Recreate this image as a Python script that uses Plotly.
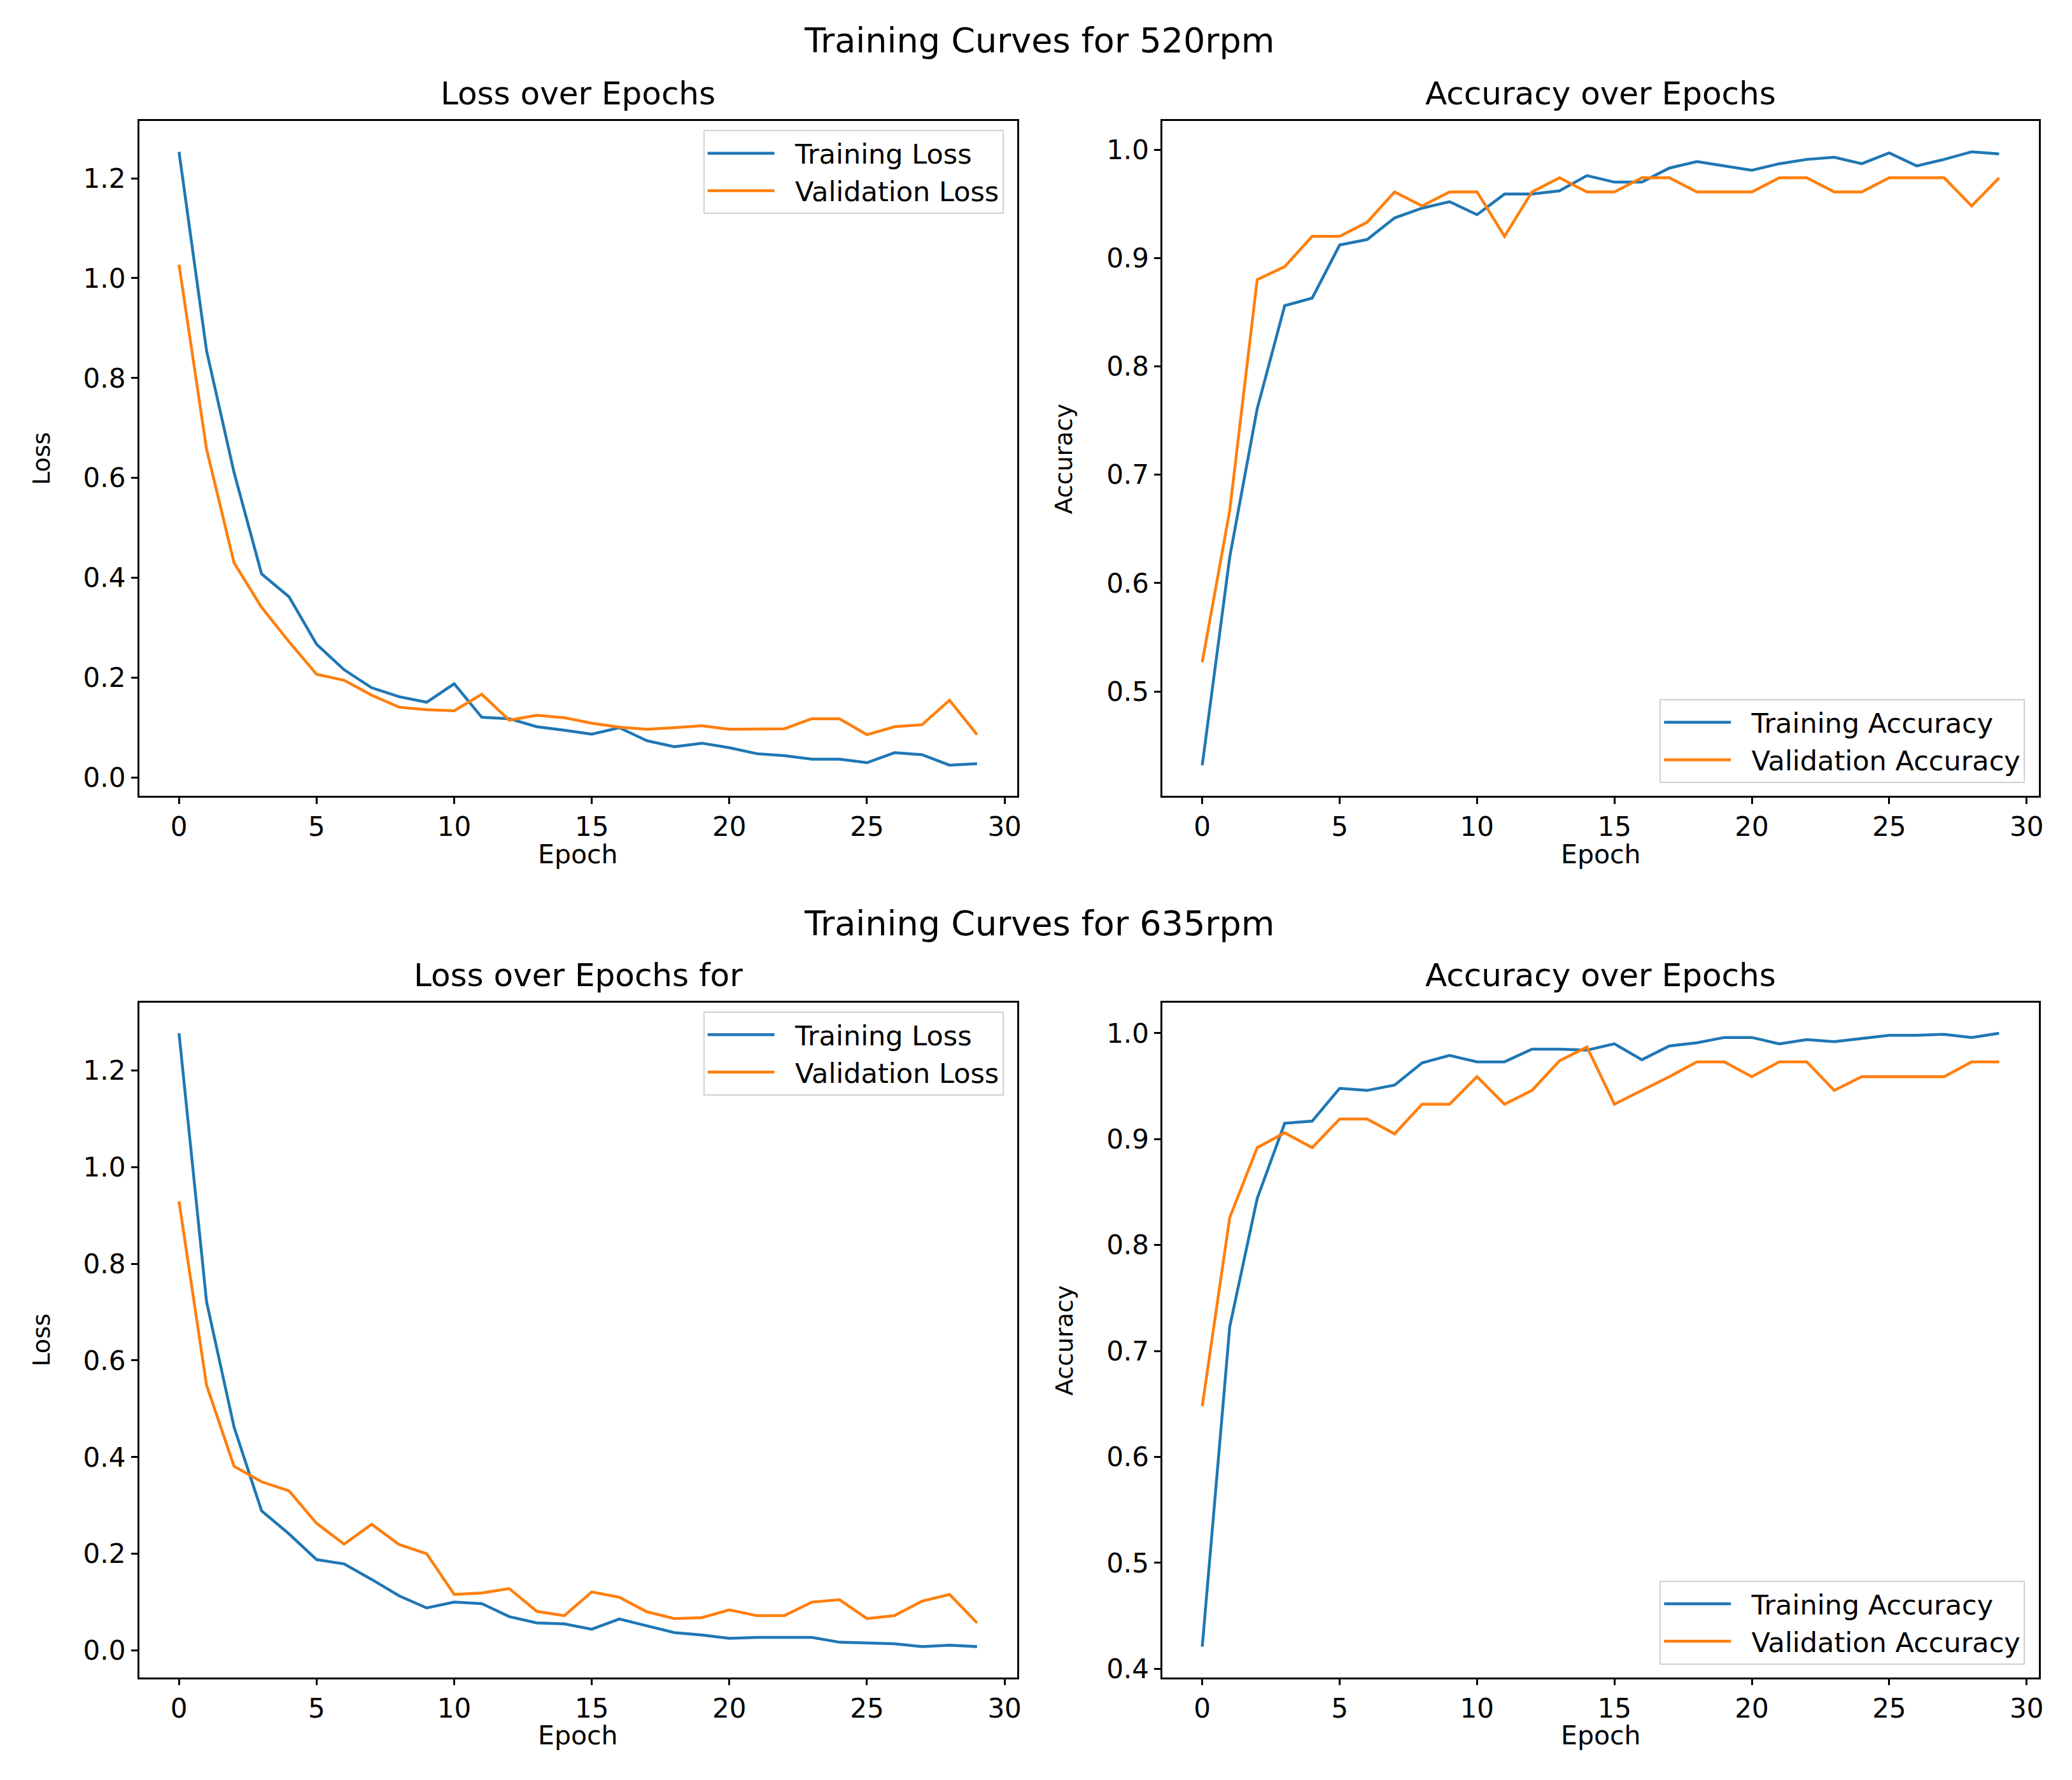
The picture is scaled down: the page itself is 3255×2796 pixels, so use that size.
import plotly.graph_objects as go

# epochs 0..29, same for every panel
epochs = list(range(30))

# 520 rpm
train_loss_520 = [1.253, 0.855, 0.611, 0.408, 0.362, 0.267, 0.216, 0.180, 0.162, 0.151,
                  0.188, 0.121, 0.118, 0.102, 0.095, 0.087, 0.100, 0.074, 0.062, 0.069,
                  0.060, 0.048, 0.044, 0.037, 0.037, 0.030, 0.050, 0.046, 0.025, 0.028]
val_loss_520 = [1.027, 0.658, 0.430, 0.341, 0.272, 0.207, 0.195, 0.165, 0.141, 0.136,
                0.134, 0.167, 0.115, 0.125, 0.120, 0.109, 0.101, 0.097, 0.100, 0.104,
                0.097, 0.097, 0.098, 0.118, 0.118, 0.086, 0.102, 0.106, 0.155, 0.086]
train_acc_520 = [0.432, 0.624, 0.761, 0.856, 0.863, 0.912, 0.917, 0.937, 0.946, 0.952,
                 0.940, 0.959, 0.959, 0.962, 0.976, 0.970, 0.970, 0.983, 0.989, 0.985,
                 0.981, 0.987, 0.991, 0.993, 0.987, 0.997, 0.985, 0.991, 0.998, 0.996]
val_acc_520 = [0.527, 0.667, 0.880, 0.892, 0.920, 0.920, 0.933, 0.961, 0.948, 0.961,
               0.961, 0.920, 0.961, 0.974, 0.961, 0.961, 0.974, 0.974, 0.961, 0.961,
               0.961, 0.974, 0.974, 0.961, 0.961, 0.974, 0.974, 0.974, 0.948, 0.974]

# 635 rpm
train_loss_635 = [1.277, 0.722, 0.462, 0.289, 0.241, 0.188, 0.179, 0.147, 0.113, 0.088,
                  0.100, 0.097, 0.070, 0.057, 0.055, 0.044, 0.065, 0.051, 0.037, 0.032,
                  0.025, 0.027, 0.027, 0.027, 0.017, 0.015, 0.014, 0.008, 0.011, 0.008]
val_loss_635 = [0.929, 0.549, 0.381, 0.349, 0.330, 0.263, 0.220, 0.261, 0.219, 0.200,
                0.116, 0.119, 0.128, 0.081, 0.072, 0.121, 0.110, 0.080, 0.066, 0.068,
                0.084, 0.072, 0.072, 0.100, 0.105, 0.066, 0.072, 0.102, 0.116, 0.057]
train_acc_635 = [0.421, 0.723, 0.844, 0.915, 0.917, 0.948, 0.946, 0.951, 0.972, 0.979,
                 0.973, 0.973, 0.985, 0.985, 0.984, 0.990, 0.975, 0.988, 0.991, 0.996,
                 0.996, 0.990, 0.994, 0.992, 0.995, 0.998, 0.998, 0.999, 0.996, 1.000]
val_acc_635 = [0.648, 0.826, 0.892, 0.906, 0.892, 0.919, 0.919, 0.905, 0.933, 0.933,
               0.959, 0.933, 0.946, 0.974, 0.987, 0.933, 0.946, 0.959, 0.973, 0.973,
               0.959, 0.973, 0.973, 0.946, 0.959, 0.959, 0.959, 0.959, 0.973, 0.973]

suptitles = ["Training Curves for 520rpm", "Training Curves for 635rpm"]
panel_titles = ["Loss over Epochs", "Accuracy over Epochs",
                "Loss over Epochs for", "Accuracy over Epochs"]
y_labels = ["Loss", "Accuracy", "Loss", "Accuracy"]
loss_names = ["Training Loss", "Validation Loss"]
acc_names = ["Training Accuracy", "Validation Accuracy"]

BLUE = "#1f77b4"
ORANGE = "#ff7f0e"
FONT = "DejaVu Sans"
W, H = 3255, 2796
GAP = "\u00a0\u00a0"  # a bit of room between legend line and text

# pixel boxes of the four axes (left, right, top, bottom)
boxes = [(211, 1593, 183, 1247), (1822, 3202, 183, 1247),
         (211, 1593, 1573, 2637), (1822, 3202, 1573, 2637)]

panels = [
    (train_loss_520, val_loss_520, loss_names, 0.2),
    (train_acc_520, val_acc_520, acc_names, 0.1),
    (train_loss_635, val_loss_635, loss_names, 0.2),
    (train_acc_635, val_acc_635, acc_names, 0.1),
]

fig = go.Figure()
annotations = []
layout = {}

for i, (tr, va, names, dt) in enumerate(panels):
    n = i + 1
    sfx = "" if n == 1 else str(n)
    leg = "legend" if n == 1 else "legend" + str(n)
    fig.add_trace(go.Scatter(x=epochs, y=tr, name=GAP + names[0], mode="lines",
                             line=dict(color=BLUE, width=4.5),
                             xaxis="x" + sfx, yaxis="y" + sfx, legend=leg))
    fig.add_trace(go.Scatter(x=epochs, y=va, name=GAP + names[1], mode="lines",
                             line=dict(color=ORANGE, width=4.5),
                             xaxis="x" + sfx, yaxis="y" + sfx, legend=leg))

    l, r, t, b = boxes[i]
    lo = min(tr + va)
    hi = max(tr + va)
    pad = 0.05 * (hi - lo)
    axis_common = dict(showgrid=False, zeroline=False, showline=True, mirror=True,
                       linecolor="black", linewidth=2.5, ticks="outside", ticklen=10,
                       tickwidth=2.5, tickcolor="black",
                       tickfont=dict(family=FONT, size=42, color="black"))
    layout["xaxis" + sfx] = dict(domain=[l / W, r / W], anchor="y" + sfx,
                                 range=[-1.45, 30.45], tick0=0, dtick=5, **axis_common)
    layout["yaxis" + sfx] = dict(domain=[1 - b / H, 1 - t / H], anchor="x" + sfx,
                                 range=[lo - pad, hi + pad], tick0=0, dtick=dt,
                                 tickformat=".1f", **axis_common)

    # legend: loss panels upper right, accuracy panels lower right
    if dt == 0.2:
        legpos = dict(x=1572 / W, y=1 - (t + 14) / H, xanchor="right", yanchor="top")
    else:
        legpos = dict(x=3180 / W, y=1 - (b - 20) / H, xanchor="right", yanchor="bottom")
    layout[leg] = dict(bgcolor="rgba(255,255,255,0.85)", bordercolor="#d0d0d0",
                       borderwidth=2, itemwidth=105, tracegroupgap=0,
                       font=dict(family=FONT, size=43, color="black"), **legpos)

    cx = (l + r) / 2 / W
    annotations.append(dict(text=panel_titles[i], x=cx, y=1 - (t - 43) / H,
                            xref="paper", yref="paper", showarrow=False,
                            xanchor="center", yanchor="middle",
                            font=dict(family=FONT, size=50, color="black")))
    annotations.append(dict(text="Epoch", x=cx, y=1 - (b + 92) / H,
                            xref="paper", yref="paper", showarrow=False,
                            xanchor="center", yanchor="middle",
                            font=dict(family=FONT, size=41, color="black")))
    lab_x = 57 if l < 1000 else 1667
    annotations.append(dict(text=y_labels[i], x=lab_x / W, y=1 - (t + b) / 2 / H,
                            xref="paper", yref="paper", showarrow=False, textangle=-90,
                            xanchor="center", yanchor="middle",
                            font=dict(family=FONT, size=38, color="black")))

for j, txt in enumerate(suptitles):
    ypx = 56 if j == 0 else 1448
    annotations.append(dict(text=txt, x=0.5, y=1 - ypx / H, xref="paper", yref="paper",
                            showarrow=False, xanchor="center", yanchor="middle",
                            font=dict(family=FONT, size=54, color="black")))

fig.update_layout(width=W, height=H, margin=dict(l=0, r=0, t=0, b=0),
                  plot_bgcolor="white", paper_bgcolor="white",
                  annotations=annotations, **layout)

fig.write_html("out.html")
